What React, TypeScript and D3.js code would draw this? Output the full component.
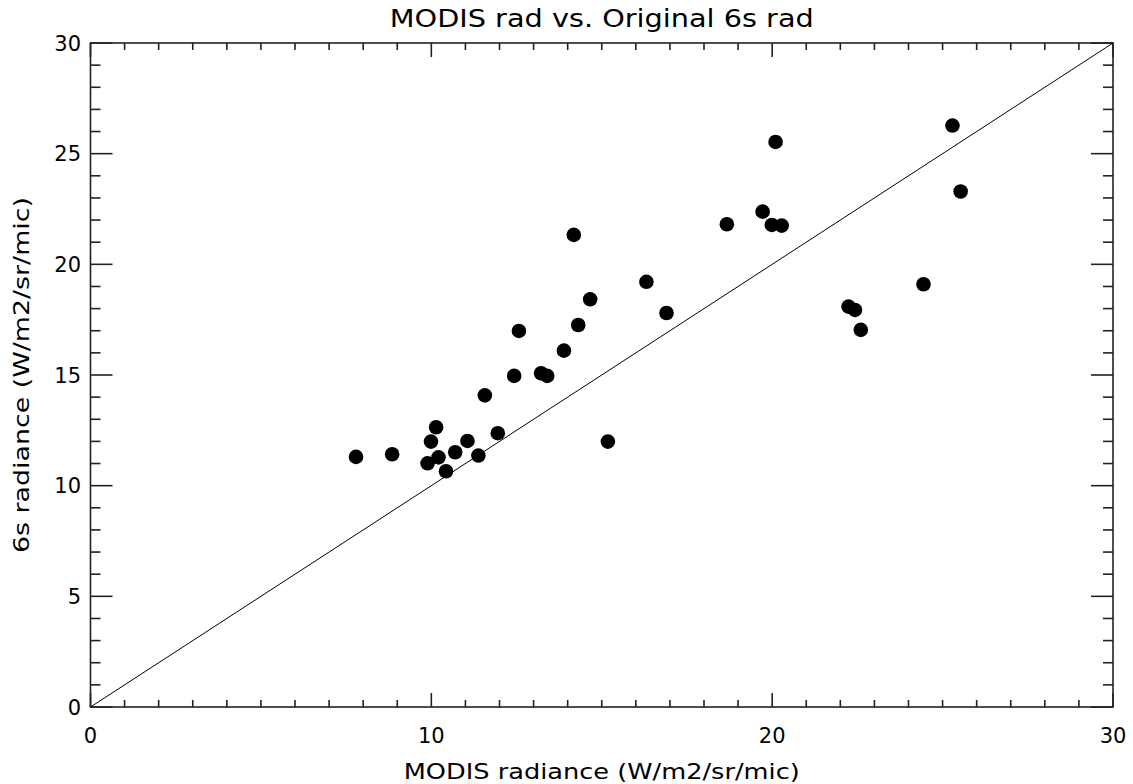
import React from "react";
import * as d3 from "d3";

const title = "MODIS rad vs. Original 6s rad";
const xTitle = "MODIS radiance (W/m2/sr/mic)";
const yTitle = "6s radiance (W/m2/sr/mic)";

const xMajorTicks = [0, 10, 20, 30];
const yMajorTicks = [0, 5, 10, 15, 20, 25, 30];

const modisRad = [
  7.79, 8.85, 9.89, 9.99, 10.14, 10.21, 10.43, 10.7, 11.06, 11.38, 11.57, 11.95,
  12.43, 12.57, 13.22, 13.4, 13.89, 14.18, 14.31, 14.66, 15.18, 16.31, 16.9,
  18.67, 19.72, 19.99, 20.1, 20.28, 22.24, 22.43, 22.6, 24.44, 25.29, 25.53,
];
const sixsRad = [
  11.3, 11.42, 11.01, 11.99, 12.64, 11.28, 10.65, 11.51, 12.02, 11.36, 14.08, 12.37,
  14.96, 16.99, 15.08, 14.96, 16.1, 21.33, 17.26, 18.42, 11.99, 19.21, 17.8,
  21.81, 22.38, 21.78, 25.53, 21.75, 18.09, 17.94, 17.04, 19.1, 26.27, 23.29,
];

const W = 1133;
const H = 784;
const left = 90.5;
const right = 1113;
const top = 43;
const bottom = 707;

export default function App() {
  const x = d3.scaleLinear().domain([0, 30]).range([left, right]);
  const y = d3.scaleLinear().domain([0, 30]).range([bottom, top]);
  const xMinor = d3.range(0, 31, 1).filter((v) => !xMajorTicks.includes(v));
  const yMinor = d3.range(0, 31, 1).filter((v) => !yMajorTicks.includes(v));
  const font = "'DejaVu Sans', sans-serif";
  const line = d3.line<[number, number]>().x((d) => x(d[0])).y((d) => y(d[1]));
  const pts = modisRad.map((v, i) => [v, sixsRad[i]] as [number, number]);
  const cx = (left + right) / 2;
  const cy = (top + bottom) / 2;

  return (
    <svg
      width={W}
      height={H}
      style={{ position: "absolute", left: 0, top: 0, background: "#fff" }}
    >
      <rect x={0} y={0} width={W} height={H} fill="#fff" />
      <text
        x={cx - 212}
        y={27}
        textLength={424}
        lengthAdjust="spacingAndGlyphs"
        fontFamily={font}
        fontSize={24}
        fill="#000"
      >
        {title}
      </text>
      {/* frame */}
      <rect x={left} y={top} width={right - left} height={bottom - top} fill="none" stroke="#222" strokeWidth={1.6} />
      {/* x ticks */}
      {xMajorTicks.map((v) => (
        <g key={"xM" + v}>
          <line x1={x(v)} x2={x(v)} y1={bottom} y2={bottom - 14} stroke="#222" strokeWidth={1.6} />
          <line x1={x(v)} x2={x(v)} y1={top} y2={top + 14} stroke="#222" strokeWidth={1.6} />
          <text x={x(v)} y={743} textAnchor="middle" fontFamily={font} fontSize={21} fill="#000">
            {v}
          </text>
        </g>
      ))}
      {xMinor.map((v) => (
        <g key={"xm" + v}>
          <line x1={x(v)} x2={x(v)} y1={bottom} y2={bottom - 7} stroke="#222" strokeWidth={1.6} />
          <line x1={x(v)} x2={x(v)} y1={top} y2={top + 7} stroke="#222" strokeWidth={1.6} />
        </g>
      ))}
      {/* y ticks */}
      {yMajorTicks.map((v) => (
        <g key={"yM" + v}>
          <line x1={left} x2={left + 22} y1={y(v)} y2={y(v)} stroke="#222" strokeWidth={1.6} />
          <line x1={right} x2={right - 22} y1={y(v)} y2={y(v)} stroke="#222" strokeWidth={1.6} />
          <text x={81} y={y(v) + 7.5} textAnchor="end" fontFamily={font} fontSize={21} fill="#000">
            {v}
          </text>
        </g>
      ))}
      {yMinor.map((v) => (
        <g key={"ym" + v}>
          <line x1={left} x2={left + 10} y1={y(v)} y2={y(v)} stroke="#222" strokeWidth={1.6} />
          <line x1={right} x2={right - 10} y1={y(v)} y2={y(v)} stroke="#222" strokeWidth={1.6} />
        </g>
      ))}
      {/* 1:1 line */}
      <path d={line([[0, 0], [30, 30]]) || ""} stroke="#000" strokeWidth={1} fill="none" />
      {/* points */}
      {pts.map((p, i) => (
        <circle key={i} cx={x(p[0])} cy={y(p[1])} r={7.3} fill="#000" />
      ))}
      <text
        x={cx - 198}
        y={779}
        textLength={396}
        lengthAdjust="spacingAndGlyphs"
        fontFamily={font}
        fontSize={21}
        fill="#000"
      >
        {xTitle}
      </text>
      <text
        transform={`translate(29, ${cy + 178}) rotate(-90)`}
        textLength={356}
        lengthAdjust="spacingAndGlyphs"
        fontFamily={font}
        fontSize={21}
        fill="#000"
      >
        {yTitle}
      </text>
    </svg>
  );
}
